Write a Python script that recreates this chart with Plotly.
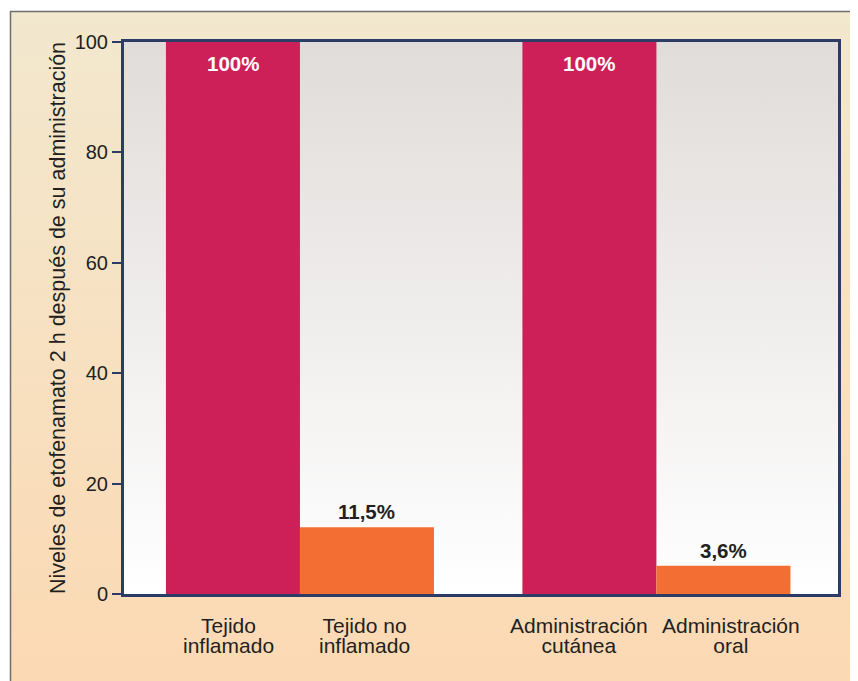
import base64
import plotly.graph_objects as go

# data
label_lines = [("Tejido", "inflamado"), ("Tejido no", "inflamado"),
               ("Administración", "cutánea"), ("Administración", "oral")]
slots = [0, 1, 2.66, 3.66]
heights = [100, 12.1, 100, 5.1]
value_text = ["100%", "11,5%", "100%", "3,6%"]
bar_colors = ["#CD1F58", "#F26E33", "#CD1F58", "#F26E33"]
y_ticks = [0, 20, 40, 60, 80, 100]

# horizontal nudge of each category label (px), as in the original layout
label_nudge = [-4, -2, -10, 8]

# page body adds an 8px offset, so the figure is drawn 8px smaller
OFF = 8
W, H = 858 - OFF, 681 - OFF
ml, mr, mt, mb = 124 - OFF, 20, 42 - OFF, 87
pw, ph = W - ml - mr, H - mt - mb
navy = "#2C3C66"
txt = "#231F20"


def svg_uri(svg):
    return "data:image/svg+xml;base64," + base64.b64encode(svg.encode()).decode()


page_svg = f'''<svg xmlns="http://www.w3.org/2000/svg" width="{W}" height="{H}" viewBox="0 0 {W} {H}" preserveAspectRatio="none">
<defs><linearGradient id="g" x1="0" y1="0" x2="0" y2="1">
<stop offset="0" stop-color="#F2E8CE"/><stop offset="1" stop-color="#FCD9B3"/></linearGradient></defs>
<rect x="0" y="0" width="{W}" height="{H}" fill="#ffffff"/>
<rect x="2.5" y="3.5" width="{W + 10}" height="{H + 10}" fill="url(#g)" stroke="#6e6e6e" stroke-width="1.5"/>
</svg>'''

plot_svg = '''<svg xmlns="http://www.w3.org/2000/svg" width="100" height="100" viewBox="0 0 100 100" preserveAspectRatio="none">
<defs><linearGradient id="p" x1="0" y1="0" x2="0" y2="1">
<stop offset="0" stop-color="#E0DCDA"/><stop offset="1" stop-color="#FFFFFF"/></linearGradient></defs>
<rect x="0" y="0" width="100" height="100" fill="url(#p)"/>
</svg>'''

fig = go.Figure()
fig.add_trace(go.Bar(x=slots, y=heights, width=1, marker_color=bar_colors,
                     marker_line_width=0, hoverinfo="skip"))

for xv, yv, t in zip(slots, heights, value_text):
    inside = yv >= 50
    fig.add_annotation(x=xv, y=yv, text=f"<b>{t}</b>", showarrow=False,
                       yanchor="top" if inside else "bottom",
                       yshift=-8 if inside else 2,
                       font=dict(size=20.5, color="white" if inside else txt))

# category labels: tight line spacing (base size 15.5) with 21px text
for xv, pair, dx in zip(slots, label_lines, label_nudge):
    text = "<br>".join(f"<span style='font-size:21px'>{s}</span>" for s in pair)
    fig.add_annotation(x=xv, xref="x", y=0, yref="paper", text=text, showarrow=False,
                       xanchor="center", yanchor="top", yshift=-18, xshift=dx,
                       align="center", font=dict(size=15.5, color=txt))

fig.update_layout(
    width=W, height=H,
    margin=dict(l=ml, r=mr, t=mt, b=mb),
    paper_bgcolor="rgba(0,0,0,0)", plot_bgcolor="rgba(0,0,0,0)",
    font=dict(family="Liberation Sans, Arial, sans-serif", color=txt),
    showlegend=False,
    images=[
        dict(source=svg_uri(page_svg), xref="paper", yref="paper",
             x=-ml / pw, y=1 + mt / ph, sizex=W / pw, sizey=H / ph,
             xanchor="left", yanchor="top", sizing="stretch", layer="below"),
        dict(source=svg_uri(plot_svg), xref="paper", yref="paper",
             x=0, y=1, sizex=1, sizey=1,
             xanchor="left", yanchor="top", sizing="stretch", layer="below"),
    ],
)
fig.update_xaxes(range=[-0.813, 4.515], tickvals=slots, showticklabels=False,
                 automargin=False, showgrid=False, zeroline=False, ticks="",
                 showline=True, mirror=True, linecolor=navy, linewidth=3)
fig.update_yaxes(range=[0, 100], tickvals=y_ticks, showgrid=False, zeroline=False,
                 automargin=False,
                 ticks="outside", ticklen=9, tickwidth=1.5, tickcolor=navy,
                 showline=True, mirror=True, linecolor=navy, linewidth=3,
                 tickfont=dict(size=20, color=txt),
                 title=dict(text="Niveles de etofenamato 2 h después de su administración",
                            font=dict(size=21.5, color=txt), standoff=4))

fig.write_html("out.html")
